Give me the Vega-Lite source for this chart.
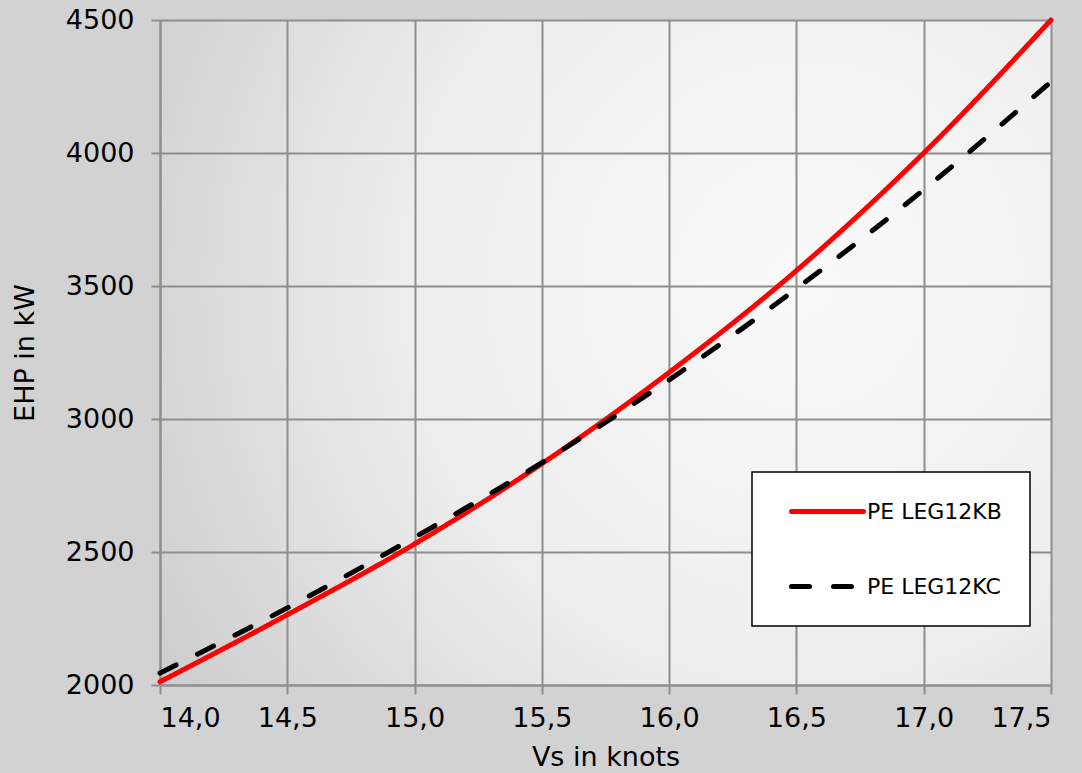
{
  "$schema": "https://vega.github.io/schema/vega-lite/v6.json",
  "width": 891,
  "height": 665,
  "autosize": {"type": "none"},
  "padding": {"left": 160, "top": 20, "right": 31, "bottom": 88},
  "background": "#d2d2d2",
  "view": {
    "stroke": null,
    "fill": {
      "gradient": "radial",
      "x1": 0.72, "y1": 0.42, "r1": 0,
      "x2": 0.72, "y2": 0.42, "r2": 0.9,
      "stops": [
        {"offset": 0, "color": "#fafafa"},
        {"offset": 0.5, "color": "#ededed"},
        {"offset": 1, "color": "#c8c8c8"}
      ]
    }
  },
  "data": {
    "values": [
      {"vs": 14.0, "ehp": 2012, "series": "PE LEG12KB"},
      {"vs": 14.5, "ehp": 2264, "series": "PE LEG12KB"},
      {"vs": 15.0, "ehp": 2530, "series": "PE LEG12KB"},
      {"vs": 15.5, "ehp": 2832, "series": "PE LEG12KB"},
      {"vs": 16.0, "ehp": 3175, "series": "PE LEG12KB"},
      {"vs": 16.5, "ehp": 3558, "series": "PE LEG12KB"},
      {"vs": 17.0, "ehp": 4000, "series": "PE LEG12KB"},
      {"vs": 17.5, "ehp": 4500, "series": "PE LEG12KB"},
      {"vs": 14.0, "ehp": 2045, "series": "PE LEG12KC"},
      {"vs": 14.5, "ehp": 2290, "series": "PE LEG12KC"},
      {"vs": 15.0, "ehp": 2555, "series": "PE LEG12KC"},
      {"vs": 15.5, "ehp": 2836, "series": "PE LEG12KC"},
      {"vs": 16.0, "ehp": 3147, "series": "PE LEG12KC"},
      {"vs": 16.5, "ehp": 3490, "series": "PE LEG12KC"},
      {"vs": 17.0, "ehp": 3862, "series": "PE LEG12KC"},
      {"vs": 17.5, "ehp": 4268, "series": "PE LEG12KC"}
    ]
  },
  "mark": {"type": "line", "interpolate": "monotone", "strokeWidth": 5, "strokeCap": "round", "clip": false},
  "encoding": {
    "x": {
      "field": "vs", "type": "quantitative",
      "scale": {"domain": [14, 17.5], "nice": false, "zero": false},
      "axis": {
        "title": "Vs in knots",
        "values": [14, 14.5, 15, 15.5, 16, 16.5, 17, 17.5],
        "labelExpr": "replace(format(datum.value, '.1f'), '.', ',')",
        "labelPadding": 11,
        "titlePadding": 13
      }
    },
    "y": {
      "field": "ehp", "type": "quantitative",
      "scale": {"domain": [2000, 4500], "nice": false, "zero": false},
      "axis": {
        "title": "EHP in kW",
        "values": [2000, 2500, 3000, 3500, 4000, 4500],
        "format": "d",
        "labelPadding": 17,
        "titlePadding": 26
      }
    },
    "color": {
      "field": "series", "type": "nominal",
      "scale": {"domain": ["PE LEG12KB", "PE LEG12KC"], "range": ["#ff0000", "#000000"]},
      "legend": {
        "title": null,
        "orient": "none",
        "legendX": 592,
        "legendY": 452,
        "symbolType": "M0,0H8",
        "symbolSize": 324,
        "symbolStrokeWidth": 5,
        "labelOffset": 64,
        "rowPadding": 52,
        "padding": 28,
        "fillColor": "#ffffff",
        "strokeColor": "#000000",
        "encode": {"symbols": {"update": {"strokeCap": {"value": "round"}}}}
      }
    },
    "strokeDash": {
      "field": "series", "type": "nominal",
      "scale": {"domain": ["PE LEG12KB", "PE LEG12KC"], "range": [[1, 0], [18, 24]]},
      "legend": {
        "title": null,
        "orient": "none",
        "legendX": 592,
        "legendY": 452,
        "symbolType": "M0,0H8",
        "symbolSize": 324,
        "symbolStrokeWidth": 5,
        "labelOffset": 64,
        "rowPadding": 52,
        "padding": 28,
        "fillColor": "#ffffff",
        "strokeColor": "#000000",
        "encode": {"symbols": {"update": {"strokeCap": {"value": "round"}}}}
      }
    }
  },
  "config": {
    "font": "DejaVu Sans",
    "axis": {
      "labelFont": "DejaVu Sans",
      "labelFontSize": 27,
      "labelColor": "#000000",
      "titleFont": "DejaVu Sans",
      "titleFontSize": 27,
      "titleFontWeight": "normal",
      "titleColor": "#000000",
      "tickColor": "#8e8e8e",
      "tickSize": 9,
      "tickWidth": 2,
      "domainColor": "#8e8e8e",
      "domainWidth": 2,
      "gridColor": "#8e8e8e",
      "gridWidth": 2,
      "grid": true
    },
    "legend": {
      "labelFont": "DejaVu Sans",
      "labelFontSize": 22,
      "labelColor": "#000000",
      "strokeWidth": 1.5
    }
  }
}
